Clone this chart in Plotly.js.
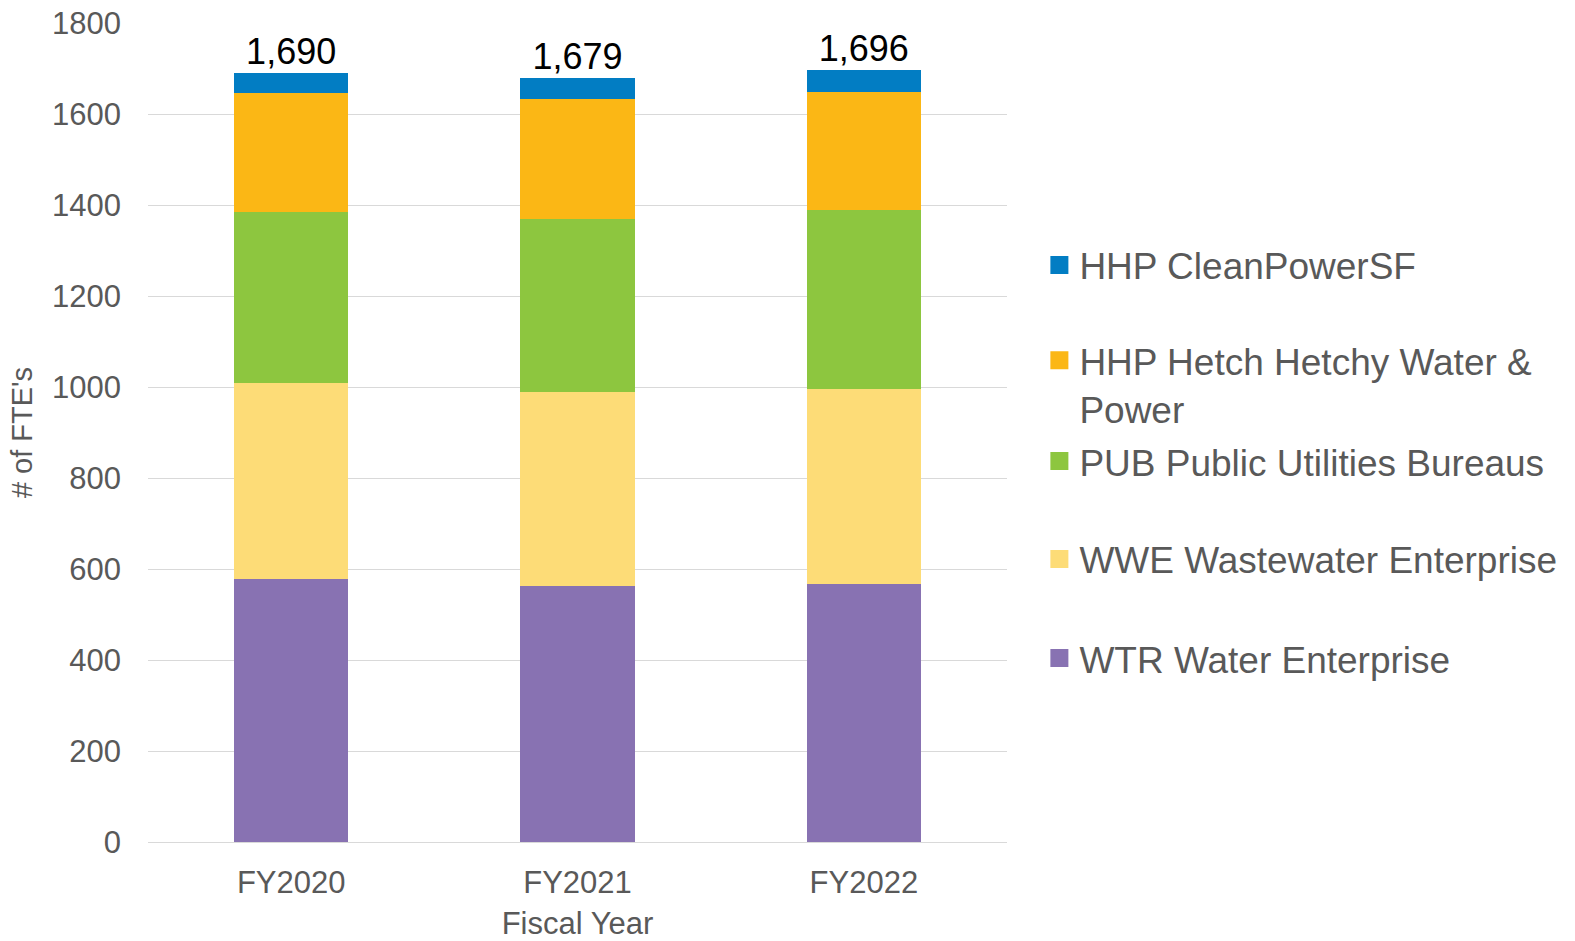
<!DOCTYPE html>
<html>
<head>
<meta charset="utf-8">
<script src="https://cdn.plot.ly/plotly-3.0.1.min.js"></script>
<style>html,body{margin:0;padding:0;background:#fff;}#chart{width:1575px;height:941px;}</style>
</head>
<body>
<div id="chart"></div>
<script>
// ---- data ----
const categories = ["FY2020", "FY2021", "FY2022"];
const wtr = [577, 563, 568];          // WTR Water Enterprise
const wwe = [432, 426, 428];          // WWE Wastewater Enterprise
const pub = [376, 381, 392];          // PUB Public Utilities Bureaus
const hhp = [261, 264, 261];          // HHP Hetch Hetchy Water & Power
const cpsf = [44, 45, 47];            // HHP CleanPowerSF
const totals = [1690, 1679, 1696];
const seriesNames = [
  "WTR Water Enterprise",
  "WWE Wastewater Enterprise",
  "PUB Public Utilities Bureaus",
  "HHP Hetch Hetchy Water &<br>Power",
  "HHP CleanPowerSF"
];
const yTicks = [0, 200, 400, 600, 800, 1000, 1200, 1400, 1600, 1800];

// ---- styling ----
const colors = ["#8872B2", "#FDDC77", "#8DC63F", "#FBB715", "#027DC3"];
const FONT = "Liberation Sans, Arial, sans-serif";
const seriesValues = [wtr, wwe, pub, hhp, cpsf];
const legendIds = ["legend5", "legend4", "legend3", "legend2", "legend"];

const traces = seriesValues.map((vals, i) => ({
  type: "bar",
  name: seriesNames[i],
  x: categories,
  y: vals,
  marker: {color: colors[i], line: {width: 0}},
  legend: legendIds[i],
  hoverinfo: "x+y+name"
}));

traces.push({
  type: "scatter",
  mode: "text",
  x: categories,
  y: totals,
  text: totals.map(v => v.toLocaleString("en-US")),
  textposition: "top center",
  textfont: {family: FONT, size: 36, color: "#000000"},
  showlegend: false,
  hoverinfo: "skip",
  cliponaxis: false
});

const legendBase = {
  x: 1.0377,
  xanchor: "left",
  yanchor: "middle",
  bgcolor: "rgba(0,0,0,0)",
  borderwidth: 0,
  font: {family: FONT, size: 37, color: "#595959"}
};

const layout = {
  width: 1575,
  height: 941,
  margin: {l: 148, r: 568, t: 23, b: 99, pad: 0},
  paper_bgcolor: "#ffffff",
  plot_bgcolor: "#ffffff",
  barmode: "stack",
  bargap: 0.6,
  font: {family: FONT, color: "#595959"},
  showlegend: true,
  legend:  Object.assign({}, legendBase, {y: 0.7040}),
  legend2: Object.assign({}, legendBase, {y: 0.5585, valign: "top"}),
  legend3: Object.assign({}, legendBase, {y: 0.4645}),
  legend4: Object.assign({}, legendBase, {y: 0.3450}),
  legend5: Object.assign({}, legendBase, {y: 0.2240}),
  xaxis: {
    type: "category",
    tickfont: {family: FONT, size: 31, color: "#595959"},
    ticklabelstandoff: 19,
    showgrid: false,
    showline: false,
    ticks: "",
    title: {text: "Fiscal Year", font: {family: FONT, size: 31, color: "#595959"}, standoff: 26},
    automargin: false
  },
  yaxis: {
    range: [0, 1800],
    tickvals: yTicks,
    ticktext: yTicks.map(String),
    tickfont: {family: FONT, size: 31, color: "#595959"},
    ticklabelstandoff: 26,
    gridcolor: "#D9D9D9",
    gridwidth: 1.3,
    zeroline: true,
    zerolinecolor: "#D9D9D9",
    zerolinewidth: 1.3,
    showline: false,
    ticks: "",
    title: {text: "# of FTE's", font: {family: FONT, size: 29, color: "#595959"}, standoff: 10},
    automargin: false
  }
};

Plotly.newPlot("chart", traces, layout, {displayModeBar: false, responsive: false}).then(() => {
  // enlarge legend swatches to the reference's 18px squares (keep Plotly's own centring transform)
  document.querySelectorAll(".legendpoints path").forEach(p => {
    p.setAttribute("d", "M9,9H-9V-9H9Z");
  });
});
</script>
</body>
</html>
